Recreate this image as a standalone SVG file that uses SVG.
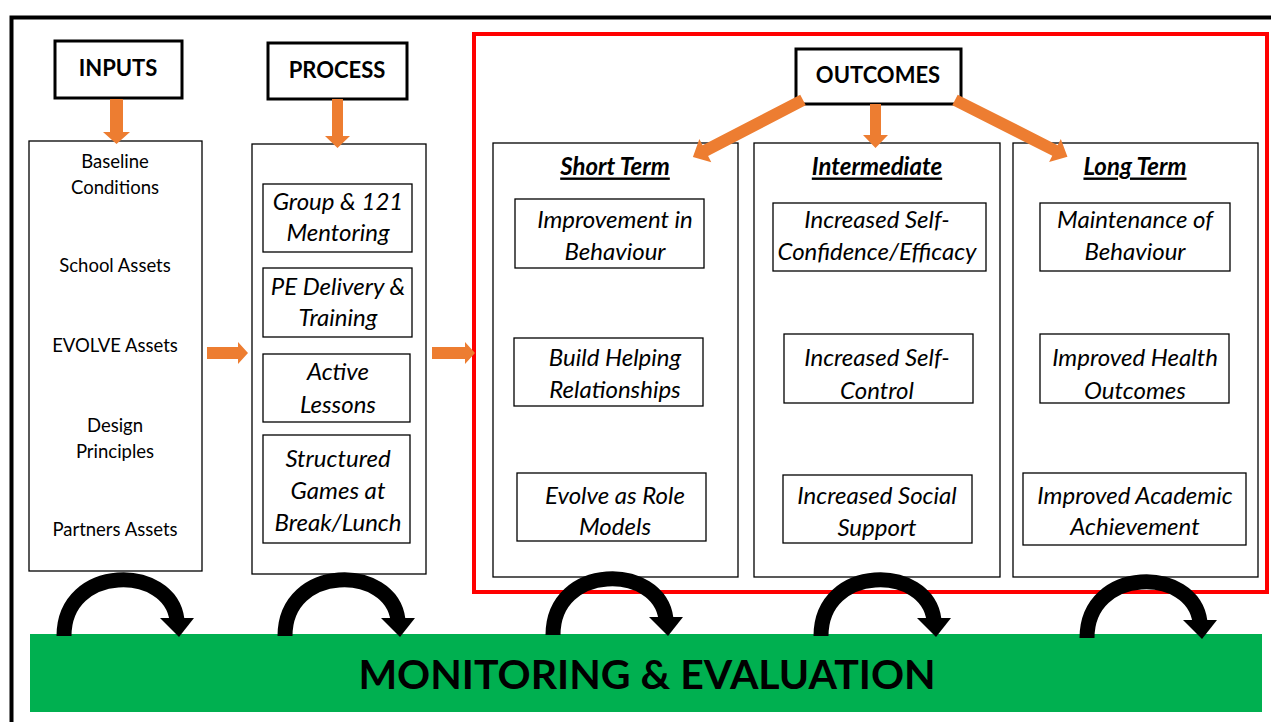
<svg xmlns="http://www.w3.org/2000/svg" width="1271" height="722" viewBox="0 0 1271 722">
<style>
.box{fill:#fff;stroke:#000;stroke-width:1.3}
.hdr{fill:#fff;stroke:#000;stroke-width:3}
.t{font-family:Lato,"Liberation Sans",sans-serif;fill:#000;text-anchor:middle;dominant-baseline:central}
.reg{font-size:18.5px}
.bold{font-size:22px;font-weight:bold}
.it{font-size:24px;font-style:italic}
.col{font-size:24px;font-weight:bold;font-style:italic;text-decoration:underline}
.or{fill:#ED7D31}
.loop{fill:none;stroke:#000;stroke-width:15}
</style>
<defs>
<g id="loopArrow">
<path class="loop" d="M0 0 C0 -72 106 -72 113 -16"/>
<polygon points="96,-18 130,-18 115,1" fill="#000"/>
</g>
</defs>
<rect width="1271" height="722" fill="#fff"/>
<path d="M11.5 722 V17.5 H1271" fill="none" stroke="#000" stroke-width="4"/>
<rect x="474" y="34" width="793" height="558" fill="none" stroke="#FF0000" stroke-width="4"/>

<g id="inputs-header"><rect class="hdr" x="55" y="41" width="127" height="57"/><text class="t bold" x="118" y="67">INPUTS</text></g>
<g id="process-header"><rect class="hdr" x="268" y="43" width="139" height="56"/><text class="t bold" x="337" y="69">PROCESS</text></g>
<g id="outcomes-header"><rect class="hdr" x="796" y="49" width="165" height="55"/><text class="t bold" x="878" y="74">OUTCOMES</text></g>

<g id="inputs">
<rect class="box" x="29" y="141" width="173" height="430"/>
<text class="t reg" x="115" y="161">Baseline</text>
<text class="t reg" x="115" y="187">Conditions</text>
<text class="t reg" x="115" y="265">School Assets</text>
<text class="t reg" x="115" y="345">EVOLVE Assets</text>
<text class="t reg" x="115" y="425">Design</text>
<text class="t reg" x="115" y="451">Principles</text>
<text class="t reg" x="115" y="529">Partners Assets</text>
</g>

<g id="process">
<rect class="box" x="252" y="144" width="174" height="430"/>
</g>
<g id="p1"><rect class="box" x="263" y="184" width="149" height="68"/><text class="t it" x="338" y="200">Group &amp; 121</text><text class="t it" x="338" y="231">Mentoring</text></g>
<g id="p2"><rect class="box" x="263" y="268" width="149" height="69"/><text class="t it" x="338" y="285">PE Delivery &amp;</text><text class="t it" x="338" y="316">Training</text></g>
<g id="p3"><rect class="box" x="263" y="354" width="147" height="68"/><text class="t it" x="338" y="370">Active</text><text class="t it" x="338" y="403">Lessons</text></g>
<g id="p4"><rect class="box" x="263" y="435" width="147" height="108"/><text class="t it" x="338" y="457">Structured</text><text class="t it" x="338" y="489">Games at</text><text class="t it" x="338" y="521">Break/Lunch</text></g>

<g id="short-term"><rect class="box" x="493" y="143" width="245" height="434"/><text class="t col" x="615" y="165">Short Term</text></g>
<g id="intermediate"><rect class="box" x="754" y="143" width="246" height="434"/><text class="t col" x="877" y="165">Intermediate</text></g>
<g id="long-term"><rect class="box" x="1013" y="143" width="245" height="434"/><text class="t col" x="1135" y="165">Long Term</text></g>

<g id="s1"><rect class="box" x="515" y="199" width="189" height="69"/><text class="t it" x="615" y="218">Improvement in</text><text class="t it" x="615" y="250">Behaviour</text></g>
<g id="s2"><rect class="box" x="514" y="338" width="189" height="68"/><text class="t it" x="615" y="356">Build Helping</text><text class="t it" x="615" y="388">Relationships</text></g>
<g id="s3"><rect class="box" x="517" y="473" width="189" height="68"/><text class="t it" x="615" y="494">Evolve as Role</text><text class="t it" x="615" y="525">Models</text></g>

<g id="i1"><rect class="box" x="773" y="203" width="213" height="68"/><text class="t it" x="877" y="218">Increased Self-</text><text class="t it" x="877" y="250">Confidence/Efficacy</text></g>
<g id="i2"><rect class="box" x="784" y="334" width="189" height="69"/><text class="t it" x="877" y="356">Increased Self-</text><text class="t it" x="877" y="389">Control</text></g>
<g id="i3"><rect class="box" x="783" y="475" width="189" height="68"/><text class="t it" x="877" y="494">Increased Social</text><text class="t it" x="877" y="526">Support</text></g>

<g id="l1"><rect class="box" x="1040" y="203" width="190" height="68"/><text class="t it" x="1135" y="218">Maintenance of</text><text class="t it" x="1135" y="250">Behaviour</text></g>
<g id="l2"><rect class="box" x="1040" y="334" width="189" height="69"/><text class="t it" x="1135" y="356">Improved Health</text><text class="t it" x="1135" y="389">Outcomes</text></g>
<g id="l3"><rect class="box" x="1023" y="473" width="223" height="72"/><text class="t it" x="1135" y="494">Improved Academic</text><text class="t it" x="1135" y="525">Achievement</text></g>

<g id="monitoring"><rect x="30" y="634" width="1232" height="78" fill="#00B050"/><text class="t" x="647" y="673" font-size="41" font-weight="bold">MONITORING &amp; EVALUATION</text></g>

<g id="connectors">
<polygon class="or" points="110,99 123,99 123,132 130,132 116.5,144 103,132 110,132"/>
<polygon class="or" points="332,99 343,99 343,136 350,136 337.5,148 325,136 332,136"/>
<polygon class="or" points="207,347 238,347 238,342 248,353 238,364 238,359 207,359"/>
<polygon class="or" points="432,347 465,347 465,342 475,353 465,364 465,359 432,359"/>
<polygon class="or" points="870,104 881,104 881,135 888,135 875.5,148 863,135 870,135"/>
<polygon class="or" transform="translate(803,100) rotate(152.6)" points="0,-6 110,-6 110,-13 124,0 110,13 110,6 0,6"/>
<polygon class="or" transform="translate(955,100) rotate(26.8)" points="0,-6 112,-6 112,-13 126,0 112,13 112,6 0,6"/>
<use href="#loopArrow" transform="translate(64,636)"/>
<use href="#loopArrow" transform="translate(285,636)"/>
<use href="#loopArrow" transform="translate(553,635)"/>
<use href="#loopArrow" transform="translate(821,636)"/>
<use href="#loopArrow" transform="translate(1087,638)"/>
</g>
</svg>
